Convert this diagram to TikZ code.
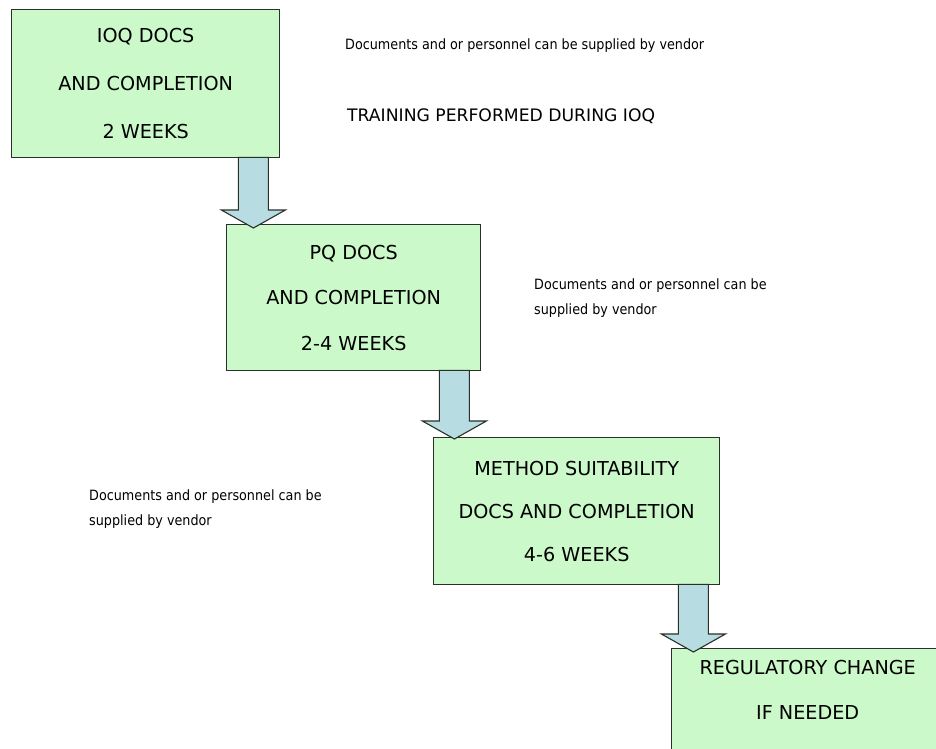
\documentclass[tikz,border=0pt]{standalone}
\usepackage{fontspec}
\setmainfont{DejaVu Sans}
\newfontfamily\sidefont{DejaVu Sans Condensed}
\usetikzlibrary{calc}
\definecolor{boxgreen}{RGB}{204,249,202}
\definecolor{arrowblue}{RGB}{183,220,226}
\definecolor{edgegray}{RGB}{40,48,40}
\tikzset{
  stepbox/.style={draw=edgegray, line width=1.4pt, fill=boxgreen, rectangle,
    anchor=north west, align=center, inner sep=0pt, text=black},
  sidetext/.style={anchor=west, align=left, inner sep=0pt, text=black,
    font=\sidefont\fontsize{14.2}{25}\selectfont},
  blockarr/.style={draw=edgegray, line width=1.1pt, fill=arrowblue, line join=miter},
}
% #1 shaft top centre coordinate, #2 tip coordinate
\newcommand\blockarrow[2]{%
  \path[blockarr] let \p1=(#1), \p2=(#2) in
    (\x1-15pt,\y1) -- (\x1-15pt,\y2+18pt) -- (\x1-32pt,\y2+18pt) -- (\x1,\y2)
    -- (\x1+32pt,\y2+18pt) -- (\x1+15pt,\y2+18pt) -- (\x1+15pt,\y1) -- cycle;}
\begin{document}
\begin{tikzpicture}[x=1pt,y=-1pt]
\useasboundingbox (0,0) rectangle (936,748);
\clip (0,0) rectangle (936,748);
\fill[white] (0,0) rectangle (936,748);

\node[stepbox, minimum width=268pt, minimum height=148pt,
  font=\fontsize{19.2}{48}\selectfont] (b1) at (11,9)
  {IOQ DOCS\\AND COMPLETION\\2 WEEKS};
\node[stepbox, minimum width=254pt, minimum height=146pt,
  font=\fontsize{19.2}{45.5}\selectfont] (b2) at (226,224)
  {PQ DOCS\\AND COMPLETION\\2-4 WEEKS};
\node[stepbox, minimum width=286pt, minimum height=147pt,
  font=\fontsize{19.2}{43}\selectfont] (b3) at (433,437)
  {METHOD SUITABILITY\\DOCS AND COMPLETION\\4-6 WEEKS};
\node[stepbox, minimum width=272pt, minimum height=140pt,
  font=\fontsize{19.2}{45}\selectfont] (b4) at (671,648)
  {REGULATORY CHANGE\\IF NEEDED\\\strut};

\coordinate (a1s) at ($(b1.south east)+(-27,-1)$);
\coordinate (a1t) at ($(b2.north)+(0,4)$);
\blockarrow{a1s}{a1s |- a1t}
\coordinate (a2s) at ($(b2.south east)+(-27,-1)$);
\coordinate (a2t) at ($(b3.north)+(0,2)$);
\blockarrow{a2s}{a2s |- a2t}
\coordinate (a3s) at ($(b3.south east)+(-27,-1)$);
\coordinate (a3t) at ($(b4.north)+(0,4)$);
\blockarrow{a3s}{a3s |- a3t}

\node[sidetext] (n1) at (345,46) {Documents and or personnel can be supplied by vendor};
\node[sidetext, font=\fontsize{17.2}{20}\selectfont] (n2) at (347,116) {TRAINING PERFORMED DURING IOQ};
\node[sidetext] (n3) at (534,298.5) {Documents and or personnel can be\\supplied by vendor};
\node[sidetext] (n4) at (89,509) {Documents and or personnel can be\\supplied by vendor};
\end{tikzpicture}
\end{document}
